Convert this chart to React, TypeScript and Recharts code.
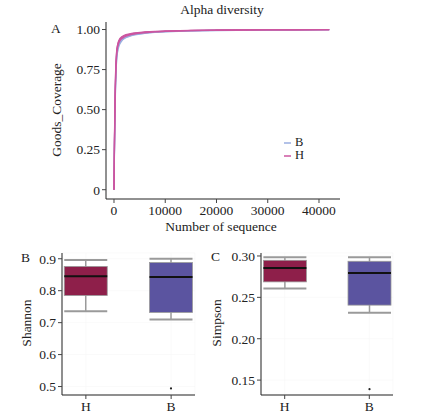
import React from 'react'
import {
  LineChart, Line, XAxis, YAxis, Legend,
  ComposedChart, Bar, CartesianGrid,
} from 'recharts'

// rarefaction depth and Good's coverage curves (3 samples per group)
const seqDepth = [0, 100, 200, 300, 500, 700, 1000, 1500, 2000, 3000, 4000, 6000, 8000, 10000, 15000, 20000, 30000, 42000]
const covB1 = [0, 0.28, 0.5, 0.65, 0.81, 0.87, 0.91, 0.935, 0.948, 0.961, 0.969, 0.978, 0.984, 0.987, 0.992, 0.995, 0.998, 0.999]
const covB2 = [0, 0.27, 0.48, 0.63, 0.8, 0.86, 0.9, 0.928, 0.943, 0.957, 0.966, 0.976, 0.982, 0.986, 0.991, 0.994, 0.997, 0.999]
const covB3 = [0, 0.31, 0.53, 0.68, 0.84, 0.89, 0.925, 0.946, 0.957, 0.968, 0.975, 0.982, 0.986, 0.989, 0.993, 0.996, 0.998, 0.999]
const covH1 = [0, 0.32, 0.55, 0.7, 0.85, 0.9, 0.93, 0.95, 0.96, 0.97, 0.976, 0.983, 0.987, 0.99, 0.994, 0.996, 0.998, 0.999]
const covH2 = [0, 0.3, 0.52, 0.67, 0.83, 0.885, 0.92, 0.942, 0.953, 0.965, 0.972, 0.98, 0.985, 0.988, 0.993, 0.995, 0.998, 0.999]
const covH3 = [0, 0.34, 0.57, 0.72, 0.86, 0.905, 0.935, 0.955, 0.964, 0.973, 0.979, 0.985, 0.989, 0.991, 0.995, 0.997, 0.999, 1.0]
const coverageTicks = [0, 0.25, 0.5, 0.75, 1]
const depthTicks = [0, 10000, 20000, 30000, 40000]

// boxplot stats, order follows groups
const groups = ['H', 'B']
const shannonMin = [0.736, 0.71]
const shannonQ1 = [0.785, 0.732]
const shannonMedian = [0.845, 0.843]
const shannonQ3 = [0.876, 0.888]
const shannonMax = [0.896, 0.9]
const shannonOutliers = [[], [0.494]]
const shannonTicks = [0.5, 0.6, 0.7, 0.8, 0.9]

const simpsonMin = [0.2607, 0.2313]
const simpsonQ1 = [0.2687, 0.2406]
const simpsonMedian = [0.2855, 0.2795]
const simpsonQ3 = [0.2948, 0.2936]
const simpsonMax = [0.2985, 0.2985]
const simpsonOutliers = [[], [0.139]]
const simpsonTicks = [0.15, 0.2, 0.25, 0.3]

const groupFill = ['#8E1F4A', '#5B54A0']
const FONT = '"Liberation Serif", "DejaVu Serif", serif'
const TXT = '#222'

const curveData = seqDepth.map((s, i) => ({
  seq: s, B1: covB1[i], B2: covB2[i], B3: covB3[i], H1: covH1[i], H2: covH2[i], H3: covH3[i],
}))

const buildBox = (mins: number[], q1: number[], med: number[], q3: number[], maxs: number[], outs: number[][]) =>
  groups.map((g, i) => ({
    pos: i + 1,
    name: g,
    min: mins[i], q1: q1[i], median: med[i], q3: q3[i], max: maxs[i],
    outliers: outs[i],
    range: [Math.min(mins[i], ...outs[i]), maxs[i]],
    fill: groupFill[i],
  }))

const shannonData = buildBox(shannonMin, shannonQ1, shannonMedian, shannonQ3, shannonMax, shannonOutliers)
const simpsonData = buildBox(simpsonMin, simpsonQ1, simpsonMedian, simpsonQ3, simpsonMax, simpsonOutliers)

const BoxShape = (props: any) => {
  const { x, y, width, height, payload } = props
  const top = Math.min(y, y + height)
  const h = Math.abs(height)
  const [lo, hi] = payload.range
  const py = (v: number) => top + ((hi - v) / (hi - lo)) * h
  const cx = x + width / 2
  return (
    <g>
      <line x1={cx} x2={cx} y1={py(payload.max)} y2={py(payload.min)} stroke="#9a9a9a" strokeWidth={1.5} />
      <line x1={x} x2={x + width} y1={py(payload.max)} y2={py(payload.max)} stroke="#9a9a9a" strokeWidth={2} />
      <line x1={x} x2={x + width} y1={py(payload.min)} y2={py(payload.min)} stroke="#9a9a9a" strokeWidth={2} />
      <rect x={x} y={py(payload.q3)} width={width} height={py(payload.q1) - py(payload.q3)}
        fill={payload.fill} stroke="#9a9a9a" strokeWidth={0.8} />
      <line x1={x} x2={x + width} y1={py(payload.median)} y2={py(payload.median)} stroke="#111" strokeWidth={2} />
      {payload.outliers.map((o: number, k: number) => (
        <circle key={k} cx={cx} cy={py(o)} r={1.1} fill="#222" />
      ))}
    </g>
  )
}

const tickStyle = { fontSize: 13.5, fill: TXT, fontFamily: FONT }

const LegendBox = (props: any) => {
  const items = (props.payload || []).filter((p: any) => p.type !== 'none')
  return (
    <div style={{ fontFamily: FONT, fontSize: 12.5, color: TXT, lineHeight: '13px' }}>
      {items.map((p: any) => (
        <div key={p.value} style={{ display: 'flex', alignItems: 'center', height: 13 }}>
          <span style={{ display: 'inline-block', width: 7, height: 2, background: p.color, opacity: 0.75, marginRight: 4 }} />
          <span>{p.value}</span>
        </div>
      ))}
    </div>
  )
}

const label = (text: string, left: number, top: number, extra: React.CSSProperties = {}) => (
  <div style={{
    position: 'absolute', left, top, fontFamily: FONT, fontSize: 13.5, color: TXT,
    whiteSpace: 'nowrap', lineHeight: '14px', ...extra,
  }}>{text}</div>
)

const rotLabel = (text: string, cx: number, cy: number) => (
  <div style={{
    position: 'absolute', left: cx, top: cy, fontFamily: FONT, fontSize: 13.5, color: TXT,
    whiteSpace: 'nowrap', lineHeight: '14px', transform: 'translate(-50%, -50%) rotate(-90deg)',
  }}>{text}</div>
)

const BoxPanel = ({ data, domain, ticks, fmt, width, yWidth, right }: any) => (
  <ComposedChart width={width} height={178} data={data} margin={{ top: 13, right, left: 0, bottom: 0 }}>
    <CartesianGrid stroke="#f6f6f6" strokeWidth={0.6} />
    <XAxis dataKey="pos" type="number" domain={[0.72, 2.28]} ticks={[1, 2]}
      tickFormatter={(v: number) => groups[v - 1]} height={23}
      tick={tickStyle} tickLine={{ stroke: '#444' }} axisLine={{ stroke: '#222' }} tickSize={4} />
    <YAxis type="number" domain={domain} ticks={ticks} allowDataOverflow width={yWidth}
      tickFormatter={fmt} tick={tickStyle} tickLine={{ stroke: '#444' }} axisLine={{ stroke: '#222' }} tickSize={4} />
    <Bar dataKey="range" barSize={43} shape={BoxShape} isAnimationActive={false} />
  </ComposedChart>
)

export default function App() {
  return (
    <div style={{ position: 'absolute', left: 0, top: 0, width: 423, height: 418, background: '#fff' }}>
      <div style={{ position: 'absolute', left: 0, top: 0 }}>
        <LineChart width={423} height={240} data={curveData} margin={{ top: 22, right: 83, left: 0, bottom: 0 }}>
          <XAxis dataKey="seq" type="number" domain={[-1560, 44100]} ticks={depthTicks} allowDataOverflow height={41}
            tick={tickStyle} tickLine={{ stroke: '#444' }} axisLine={{ stroke: '#222' }} tickSize={4} />
          <YAxis type="number" domain={[-0.058, 1.047]} ticks={coverageTicks} allowDataOverflow width={106}
            tickFormatter={(v: number) => (v === 0 ? '0' : v.toFixed(2))}
            tick={tickStyle} tickLine={{ stroke: '#444' }} axisLine={{ stroke: '#222' }} tickSize={4} />
          <Legend layout="vertical" align="center" verticalAlign="middle" content={<LegendBox />}
            wrapperStyle={{ position: 'absolute', left: 284, top: 136, width: 40 }} />
          <Line dataKey="B1" name="B" type="monotone" stroke="#9AAEE0" strokeWidth={1.3} dot={false} isAnimationActive={false} />
          <Line dataKey="B2" name="B " legendType="none" type="monotone" stroke="#9AAEE0" strokeWidth={1.3} dot={false} isAnimationActive={false} />
          <Line dataKey="B3" name="B  " legendType="none" type="monotone" stroke="#9AAEE0" strokeWidth={1.3} dot={false} isAnimationActive={false} />
          <Line dataKey="H1" name="H" type="monotone" stroke="#CC55A0" strokeWidth={1.3} dot={false} isAnimationActive={false} />
          <Line dataKey="H2" name="H " legendType="none" type="monotone" stroke="#CC55A0" strokeWidth={1.3} dot={false} isAnimationActive={false} />
          <Line dataKey="H3" name="H  " legendType="none" type="monotone" stroke="#CC55A0" strokeWidth={1.3} dot={false} isAnimationActive={false} />
        </LineChart>
      </div>
      <div style={{ position: 'absolute', left: 0, top: 240 }}>
        <BoxPanel data={shannonData} domain={[0.4735, 0.918]} ticks={shannonTicks}
          fmt={(v: number) => v.toFixed(1)} width={215} yWidth={62} right={20} />
      </div>
      <div style={{ position: 'absolute', left: 200, top: 240 }}>
        <BoxPanel data={simpsonData} domain={[0.132, 0.3036]} ticks={simpsonTicks}
          fmt={(v: number) => v.toFixed(2)} width={223} yWidth={61} right={30} />
      </div>
      {label('Alpha diversity', 222, 3, { transform: 'translateX(-50%)' })}
      {label('A', 51, 22)}
      {rotLabel('Goods_Coverage', 57, 110)}
      {label('Number of sequence', 221, 220, { transform: 'translateX(-50%)' })}
      {label('B', 21, 251)}
      {rotLabel('Shannon', 27, 323)}
      {label('C', 211, 250)}
      {rotLabel('Simpson', 217, 323)}
    </div>
  )
}
